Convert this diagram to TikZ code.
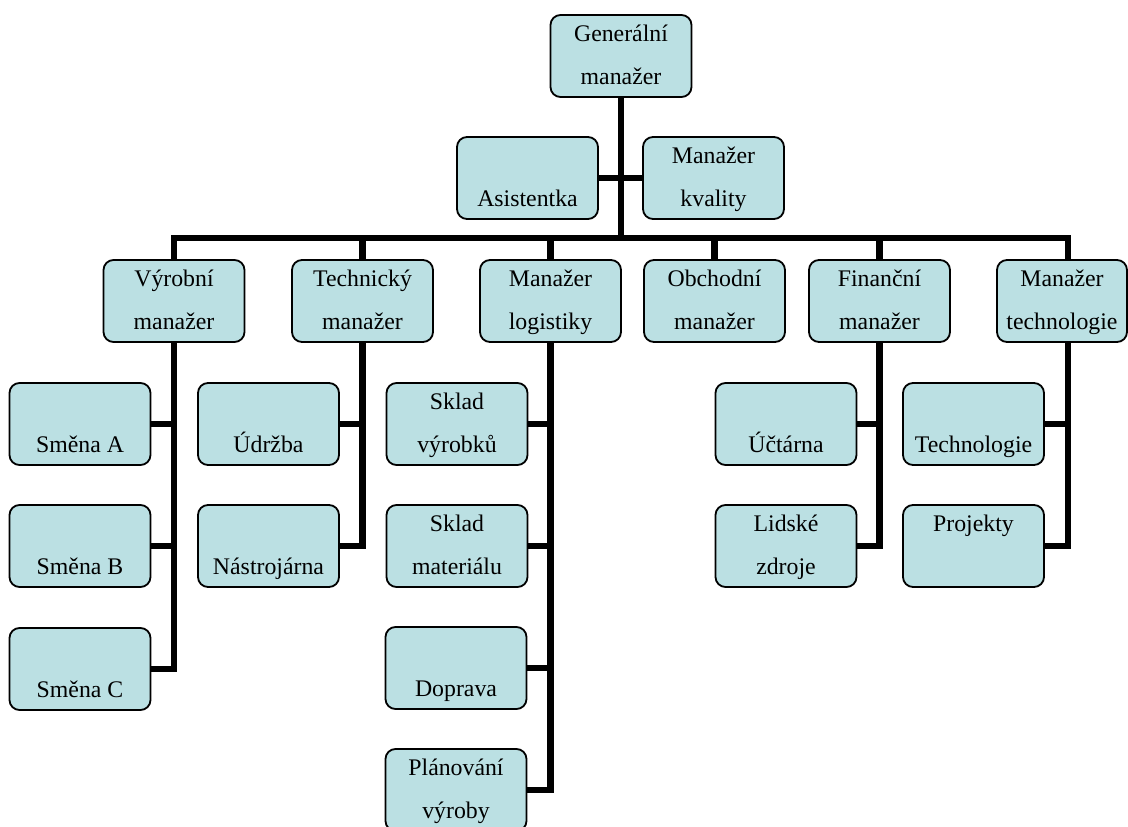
\documentclass[tikz,border=0pt]{standalone}
\usepackage{fontspec}
\setmainfont{Liberation Serif}
\usepackage{tikz}
\definecolor{boxfill}{HTML}{BBE0E3}
\newcommand{\boxstrut}{\rule[-13pt]{0pt}{39pt}}
\newcommand{\boxtext}[2]{\boxstrut#1\\#2\boxstrut}

\begin{document}
\begin{tikzpicture}
      [x=1pt,y=-1pt,
       main node/.style={draw,rounded corners=10pt,line width=1.8pt,fill=boxfill,align=center,
         minimum width=141pt,minimum height=82pt,inner sep=0pt,
         font=\fontsize{23.8}{43}\selectfont},
       link/.style={line width=6.5pt}]
        \useasboundingbox (0,0) rectangle (1128,827);

        \node[main node] (gm) at (621,56) {\boxtext{Generální}{manažer}};
        \node[main node,minimum height=80pt] (asist) at (527.5,178) {\boxtext{}{Asistentka}};
        \node[main node,minimum height=80pt] (kval) at (713.5,178) {\boxtext{Manažer}{kvality}};

        \node[main node] (vyr) at (174,301) {\boxtext{Výrobní}{manažer}};
        \node[main node] (tech) at (362.5,301) {\boxtext{Technický}{manažer}};
        \node[main node] (log) at (550.5,301) {\boxtext{Manažer}{logistiky}};
        \node[main node] (obch) at (714.5,301) {\boxtext{Obchodní}{manažer}};
        \node[main node] (fin) at (879.5,301) {\boxtext{Finanční}{manažer}};
        \node[main node,minimum width=130pt] (mtech) at (1062,301) {\boxtext{Manažer}{technologie}};

        \node[main node] (smenaA) at (80,424) {\boxtext{}{Směna A}};
        \node[main node] (smenaB) at (80,546) {\boxtext{}{Směna B}};
        \node[main node] (smenaC) at (80,669) {\boxtext{}{Směna C}};

        \node[main node] (udrzba) at (268.5,424) {\boxtext{}{Údržba}};
        \node[main node] (nastroj) at (268.5,546) {\boxtext{}{Nástrojárna}};

        \node[main node] (skladv) at (457,424) {\boxtext{Sklad}{výrobků}};
        \node[main node] (skladm) at (457,546) {\boxtext{Sklad}{materiálu}};
        \node[main node] (doprava) at (456,668) {\boxtext{}{Doprava}};
        \node[main node] (planov) at (456,790) {\boxtext{Plánování}{výroby}};

        \node[main node] (uctarna) at (786,424) {\boxtext{}{Účtárna}};
        \node[main node] (lidske) at (786,546) {\boxtext{Lidské}{zdroje}};

        \node[main node] (technol) at (973.5,424) {\boxtext{}{Technologie}};
        \node[main node] (projekty) at (973.5,546) {\boxtext{Projekty}{}};

        \coordinate (bus) at (0,238);
        \coordinate (mt) at (1068,238);

        % top
        \draw[link] (gm.south) -- (gm |- bus);
        \draw[link] (asist.east) -- (kval.west);
        \draw[link] (vyr.north) -- (vyr |- bus) -- (mt) -- (mt |- mtech.north);
        \draw[link] (tech.north) -- (tech |- bus);
        \draw[link] (log.north) -- (log |- bus);
        \draw[link] (obch.north) -- (obch |- bus);
        \draw[link] (fin.north) -- (fin |- bus);

        % branches
        \draw[link] (vyr.south) |- (smenaC.east);
        \draw[link] (smenaA.east) -- (smenaA -| vyr);
        \draw[link] (smenaB.east) -- (smenaB -| vyr);

        \draw[link] (tech.south) |- (nastroj.east);
        \draw[link] (udrzba.east) -- (udrzba -| tech);

        \draw[link] (log.south) |- (planov.east);
        \draw[link] (skladv.east) -- (skladv -| log);
        \draw[link] (skladm.east) -- (skladm -| log);
        \draw[link] (doprava.east) -- (doprava -| log);

        \draw[link] (fin.south) |- (lidske.east);
        \draw[link] (uctarna.east) -- (uctarna -| fin);

        \draw[link] (mtech.south -| mt) |- (projekty.east);
        \draw[link] (technol.east) -- (technol -| mt);

\end{tikzpicture}
\end{document}
